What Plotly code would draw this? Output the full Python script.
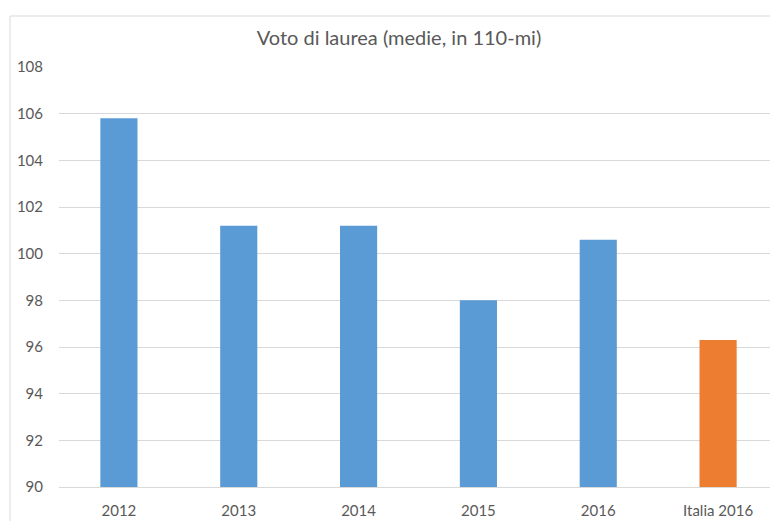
import plotly.graph_objects as go

categories = ["2012", "2013", "2014", "2015", "2016", "Italia 2016"]
values = [105.8, 101.2, 101.2, 98.0, 100.6, 96.3]
colors = ["#5B9BD5", "#5B9BD5", "#5B9BD5", "#5B9BD5", "#5B9BD5", "#ED7D31"]
y_ticks = [90, 92, 94, 96, 98, 100, 102, 104, 106, 108]

FONT = "Lato, Open Sans, sans-serif"
W, H = 770, 513  # page body has an 8px margin

fig = go.Figure(go.Bar(x=categories, y=values, marker=dict(color=colors, line=dict(width=0))))

fig.update_layout(
    width=W, height=H,
    margin=dict(l=51, r=0, t=59, b=34),
    paper_bgcolor="white", plot_bgcolor="white",
    bargap=0.69,
    showlegend=False,
    title=dict(text="Voto di laurea (medie, in 110-mi)", x=391/W, xref="container", xanchor="center",
               y=1 - 30/H, yanchor="middle", yref="container",
               font=dict(family=FONT, size=20, color="#595959")),
    font=dict(family=FONT, size=15, color="#595959"),
)
fig.update_yaxes(range=[90, 108], tickvals=y_ticks, showgrid=True, gridcolor="#D9D9D9", gridwidth=1,
                 zeroline=False, showline=False, ticks="", ticklabelstandoff=15,
                 tickfont=dict(family=FONT, size=15, color="#595959"))
fig.update_xaxes(showgrid=False, showline=True, linecolor="#D9D9D9", linewidth=1, ticks="",
                 ticklabelstandoff=10, tickfont=dict(family=FONT, size=15, color="#595959"))

fig.add_shape(type="rect", xref="paper", yref="paper",
              x0=(2 - 51) / 719, x1=1.2, y0=-0.3, y1=1 + (59 - 8) / 420,
              line=dict(color="#D9D9D9", width=1), fillcolor="rgba(0,0,0,0)", layer="below")

fig.write_html("out.html")
